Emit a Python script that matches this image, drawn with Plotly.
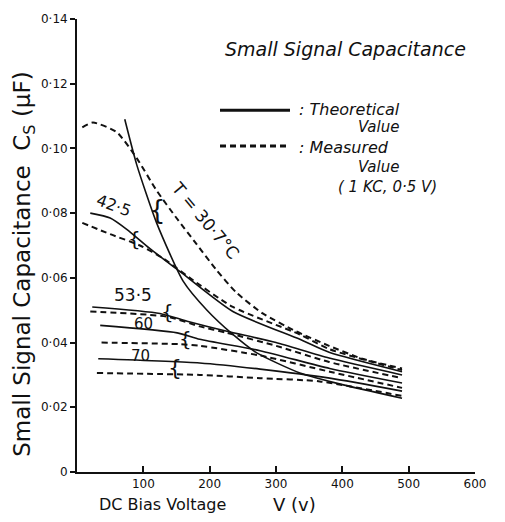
import plotly.graph_objects as go

# ---- data (V in volts, C in microfarads) ----
v_t307 = [72, 90, 120, 160, 196, 235, 271, 336, 400, 490]
c_t307 = [0.109, 0.095, 0.077, 0.059, 0.050, 0.0425, 0.0368, 0.0306, 0.027, 0.0228]
v_m307 = [8, 24, 60, 90, 120, 150, 180, 210, 240, 280, 330, 380, 430, 490]
c_m307 = [0.1065, 0.108, 0.105, 0.097, 0.087, 0.0785, 0.0705, 0.0625, 0.0555, 0.049, 0.0435, 0.039, 0.035, 0.032]

v_t425 = [20, 50, 75, 110, 155, 235, 336, 380, 490]
c_t425 = [0.080, 0.0785, 0.075, 0.069, 0.062, 0.0496, 0.041, 0.037, 0.031]
v_m425 = [8, 50, 95, 130, 170, 235, 336, 380, 490]
c_m425 = [0.077, 0.0735, 0.070, 0.066, 0.060, 0.051, 0.0425, 0.038, 0.0315]

v_t535 = [23, 125, 166, 226, 300, 380, 490]
c_t535 = [0.051, 0.049, 0.0466, 0.0435, 0.040, 0.0352, 0.030]
v_m535 = [20, 136, 185, 226, 300, 380, 490]
c_m535 = [0.0496, 0.048, 0.045, 0.043, 0.039, 0.034, 0.029]

v_t60 = [35, 151, 185, 276, 381, 490]
c_t60 = [0.0453, 0.043, 0.041, 0.0375, 0.032, 0.0275]
v_m60 = [37, 155, 185, 276, 381, 490]
c_m60 = [0.040, 0.0395, 0.039, 0.036, 0.031, 0.026]

v_t70 = [32, 185, 276, 381, 490]
c_t70 = [0.035, 0.0337, 0.0318, 0.029, 0.025]
v_m70 = [30, 185, 276, 366, 490]
c_m70 = [0.0306, 0.030, 0.029, 0.028, 0.0235]

x_ticks = [100, 200, 300, 400, 500, 600]
x_ticklabels = ["100", "200", "300", "400", "500", "600"]
y_ticks = [0, 0.02, 0.04, 0.06, 0.08, 0.10, 0.12, 0.14]
y_ticklabels = ["0", "0·02", "0·04", "0·06", "0·08", "0·10", "0·12", "0·14"]

curve_labels = ["T = 30·7°C", "42·5", "53·5", "60", "70"]
label_v = [193, 56, 85, 100, 95]
label_c = [0.0778, 0.0824, 0.0548, 0.0456, 0.0358]
label_angle = [50, 20, 0, 0, 0]
label_size = [17, 16, 17, 15, 15]

brace_v = [121, 87, 137, 163, 148]
brace_c = [0.081, 0.072, 0.0496, 0.041, 0.0322]
brace_size = [26, 20, 20, 20, 22]

FONT = "DejaVu Sans"
INK = "#111111"

fig = go.Figure()
solid = dict(color=INK, width=1.6)
dashed = dict(color=INK, width=2, dash="6px,4px")
for vv, cc, st in [
    (v_t307, c_t307, solid), (v_m307, c_m307, dashed),
    (v_t425, c_t425, solid), (v_m425, c_m425, dashed),
    (v_t535, c_t535, solid), (v_m535, c_m535, dashed),
    (v_t60, c_t60, solid), (v_m60, c_m60, dashed),
    (v_t70, c_t70, solid), (v_m70, c_m70, dashed),
]:
    fig.add_trace(go.Scatter(x=vv, y=cc, mode="lines", line=dict(shape="spline", smoothing=0.6, **st),
                             showlegend=False, hoverinfo="skip"))

ann = []
for t, v, c, a, s in zip(curve_labels, label_v, label_c, label_angle, label_size):
    ann.append(dict(x=v, y=c, xref="x", yref="y", text=t, showarrow=False, textangle=a,
                    font=dict(family=FONT, size=s, color=INK)))
for v, c, s in zip(brace_v, brace_c, brace_size):
    ann.append(dict(x=v, y=c, xref="x", yref="y", text="{", showarrow=False,
                    font=dict(family=FONT, size=s, color=INK)))

def px2paper(px, py):
    return (px - 77) / 398.0, (472 - py) / 457.0

def pa(text, px, py, size, anchor="center", italic=True, angle=0):
    x, y = px2paper(px, py)
    ann.append(dict(x=x, y=y, xref="paper", yref="paper", text=text, showarrow=False,
                    xanchor=anchor, yanchor="middle", textangle=angle,
                    font=dict(family=FONT, size=size, color=INK,
                              style="italic" if italic else "normal")))

pa("Small Signal Capacitance", 345, 45, 19)
pa(": Theoretical", 297, 106, 16, anchor="left")
pa("Value", 378, 124, 15)
pa(": Measured", 297, 145, 16, anchor="left")
pa("Value", 378, 164, 15)
pa("( 1 KC, 0·5 V)", 387, 184, 15)
pa("Small Signal Capacitance  C<sub>S</sub> (μF)", 24, 262, 23, italic=False, angle=-90)
pa("DC Bias Voltage", 162, 505, 16, italic=False)
pa("V (v)", 294, 505, 18, italic=False)

shapes = []
x0, y0 = px2paper(220, 107)
x1, _ = px2paper(290, 107)
shapes.append(dict(type="line", xref="paper", yref="paper", x0=x0, x1=x1, y0=y0, y1=y0,
                   line=dict(color=INK, width=3)))
x0, y0 = px2paper(220, 143)
x1, _ = px2paper(290, 143)
shapes.append(dict(type="line", xref="paper", yref="paper", x0=x0, x1=x1, y0=y0, y1=y0,
                   line=dict(color=INK, width=3, dash="6px,4px")))

fig.update_layout(
    width=505, height=522,
    margin=dict(l=77, r=30, t=15, b=50),
    paper_bgcolor="white", plot_bgcolor="white",
    annotations=ann, shapes=shapes,
    font=dict(family=FONT, color=INK),
)
fig.update_xaxes(range=[0, 600], tickvals=x_ticks, ticktext=x_ticklabels,
                 showgrid=False, zeroline=False, showline=True, linecolor=INK, linewidth=1.8,
                 ticks="inside", ticklen=6, tickwidth=1.5, tickcolor=INK,
                 tickfont=dict(family=FONT, size=12, color=INK))
fig.update_yaxes(range=[0, 0.14], tickvals=y_ticks, ticktext=y_ticklabels,
                 showgrid=False, zeroline=False, showline=True, linecolor=INK, linewidth=1.8,
                 ticks="outside", ticklen=5, tickwidth=1.5, tickcolor=INK,
                 tickfont=dict(family=FONT, size=12, color=INK))

fig.write_html("out.html")
